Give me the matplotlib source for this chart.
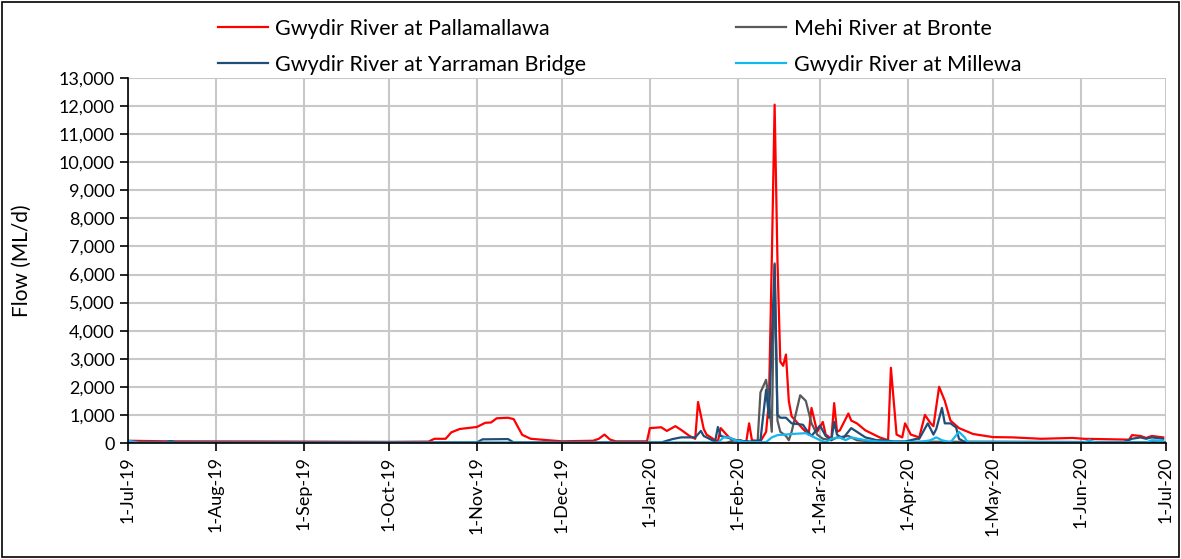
import pandas as pd
import numpy as np
import matplotlib
matplotlib.use('Agg')
import matplotlib.pyplot as plt
import matplotlib.dates as mdates
from matplotlib.ticker import FuncFormatter, MultipleLocator
from matplotlib.patches import Rectangle

plt.rcParams['font.family'] = ['Lato', 'DejaVu Sans']

# Gwydir River at Pallamallawa
palla_dates = ['2019-07-01', '2019-07-15', '2019-08-15', '2019-09-15', '2019-10-01', '2019-10-15',
               '2019-10-17', '2019-10-21', '2019-10-23', '2019-10-26', '2019-11-01', '2019-11-04',
               '2019-11-06', '2019-11-08', '2019-11-12', '2019-11-14', '2019-11-17', '2019-11-20',
               '2019-11-26', '2019-12-01', '2019-12-12', '2019-12-14', '2019-12-16', '2019-12-18',
               '2019-12-20', '2019-12-31', '2020-01-01', '2020-01-05', '2020-01-07', '2020-01-10',
               '2020-01-12', '2020-01-15', '2020-01-17', '2020-01-18', '2020-01-20', '2020-01-21',
               '2020-01-24', '2020-01-25', '2020-01-26', '2020-01-28', '2020-01-30', '2020-02-04',
               '2020-02-05', '2020-02-06', '2020-02-09', '2020-02-11', '2020-02-12', '2020-02-13',
               '2020-02-14', '2020-02-15', '2020-02-16', '2020-02-17', '2020-02-18', '2020-02-19',
               '2020-02-20', '2020-02-24', '2020-02-26', '2020-02-27', '2020-02-29', '2020-03-02',
               '2020-03-03', '2020-03-05', '2020-03-06', '2020-03-07', '2020-03-08', '2020-03-11',
               '2020-03-12', '2020-03-14', '2020-03-17', '2020-03-22', '2020-03-25', '2020-03-26',
               '2020-03-28', '2020-03-30', '2020-03-31', '2020-04-02', '2020-04-05', '2020-04-07',
               '2020-04-09', '2020-04-10', '2020-04-12', '2020-04-14', '2020-04-16', '2020-04-19',
               '2020-04-24', '2020-05-01', '2020-05-08', '2020-05-18', '2020-05-29', '2020-06-02',
               '2020-06-18', '2020-06-19', '2020-06-22', '2020-06-24', '2020-06-26', '2020-06-30']
palla_flow = [80, 60, 55, 45, 40, 50,
              150, 150, 380, 500, 570, 720,
              730, 880, 900, 850, 290, 150,
              100, 60, 80, 150, 300, 120,
              60, 60, 530, 560, 430, 600,
              470, 250, 150, 1460, 500, 300,
              100, 60, 530, 300, 100, 50,
              700, 100, 60, 400, 1500, 6500,
              12050, 6500, 2900, 2750, 3150, 1500,
              950, 500, 300, 1250, 400, 750,
              300, 150, 1420, 400, 450, 1050,
              800, 700, 450, 200, 100, 2680,
              300, 200, 700, 300, 200, 1000,
              700, 600, 2000, 1500, 800, 530,
              320, 210, 200, 150, 180, 150,
              120, 280, 250, 180, 250, 200]

# Mehi River at Bronte
mehi_dates = ['2019-07-01', '2020-01-28', '2020-01-31', '2020-02-02', '2020-02-04', '2020-02-08',
              '2020-02-09', '2020-02-11', '2020-02-12', '2020-02-13', '2020-02-14', '2020-02-15',
              '2020-02-16', '2020-02-18', '2020-02-19', '2020-02-20', '2020-02-23', '2020-02-25',
              '2020-02-27', '2020-02-29', '2020-03-02', '2020-03-05', '2020-03-07', '2020-03-11',
              '2020-03-14', '2020-03-20', '2020-07-01']
mehi_flow = [10, 10, 100, 100, 20, 50,
             1800, 2250, 1500, 400, 6400, 800,
             400, 250, 100, 400, 1700, 1500,
             700, 300, 150, 100, 200, 250,
             100, 50, 30]

# Gwydir River at Yarraman Bridge
yarra_dates = ['2019-07-01', '2019-07-14', '2019-07-16', '2019-07-18', '2019-11-01', '2019-11-03',
               '2019-11-12', '2019-11-14', '2020-01-05', '2020-01-09', '2020-01-12', '2020-01-17',
               '2020-01-19', '2020-01-20', '2020-01-23', '2020-01-24', '2020-01-25', '2020-01-26',
               '2020-01-28', '2020-01-30', '2020-02-01', '2020-02-06', '2020-02-09', '2020-02-11',
               '2020-02-12', '2020-02-14', '2020-02-15', '2020-02-16', '2020-02-18', '2020-02-20',
               '2020-02-24', '2020-02-25', '2020-02-27', '2020-03-01', '2020-03-03', '2020-03-05',
               '2020-03-06', '2020-03-07', '2020-03-09', '2020-03-12', '2020-03-14', '2020-03-17',
               '2020-03-21', '2020-03-24', '2020-03-27', '2020-03-31', '2020-04-04', '2020-04-05',
               '2020-04-08', '2020-04-10', '2020-04-11', '2020-04-13', '2020-04-14', '2020-04-16',
               '2020-04-18', '2020-04-19', '2020-04-21', '2020-06-16', '2020-06-19', '2020-06-22',
               '2020-06-24', '2020-06-26', '2020-06-30']
yarra_flow = [30, 20, 70, 20, 20, 130,
              140, 20, 20, 140, 200, 200,
              430, 250, 100, 50, 570, 250,
              200, 150, 80, 50, 100, 1900,
              900, 6350, 1000, 900, 900, 700,
              650, 500, 250, 620, 250, 100,
              750, 300, 150, 530, 400, 200,
              100, 100, 50, 50, 150, 150,
              700, 300, 500, 1250, 700, 700,
              550, 150, 40, 30, 150, 200,
              150, 200, 150]

# Gwydir River at Millewa
mille_dates = ['2019-07-01', '2019-07-05', '2020-01-25', '2020-01-27', '2020-01-29', '2020-01-31',
               '2020-02-04', '2020-02-11', '2020-02-13', '2020-02-15', '2020-02-20', '2020-02-25',
               '2020-02-27', '2020-03-01', '2020-03-03', '2020-03-05', '2020-03-08', '2020-03-10',
               '2020-03-12', '2020-03-17', '2020-03-22', '2020-04-05', '2020-04-09', '2020-04-11',
               '2020-04-13', '2020-04-16', '2020-04-19', '2020-04-21', '2020-04-22', '2020-06-02',
               '2020-06-04', '2020-06-06', '2020-06-24', '2020-06-26', '2020-06-30']
mille_flow = [80, 10, 10, 200, 200, 100,
              30, 30, 200, 280, 320, 350,
              250, 100, 30, 150, 200, 100,
              200, 100, 50, 30, 100, 200,
              100, 20, 400, 200, 30, 20,
              100, 20, 20, 100, 80]

fig = plt.figure(figsize=(11.81, 5.59), dpi=100)
ax = fig.add_axes([128/1181, 1-443/559, (1166-128)/1181, (443-78)/559])

l1, = ax.plot(pd.to_datetime(palla_dates), palla_flow, color='#FF0000', lw=1.6, label='Gwydir River at Pallamallawa')
l2, = ax.plot(pd.to_datetime(mehi_dates), mehi_flow, color='#595959', lw=1.6, label='Mehi River at Bronte')
l3, = ax.plot(pd.to_datetime(yarra_dates), yarra_flow, color='#1F4E79', lw=1.6, label='Gwydir River at Yarraman Bridge')
l4, = ax.plot(pd.to_datetime(mille_dates), mille_flow, color='#14B8F0', lw=1.6, label='Gwydir River at Millewa')

ax.set_xlim(pd.Timestamp('2019-07-01'), pd.Timestamp('2020-07-01'))
ax.set_ylim(0, 13000)
ax.yaxis.set_major_locator(MultipleLocator(1000))
ax.yaxis.set_major_formatter(FuncFormatter(lambda v, p: '{:,.0f}'.format(v)))
ax.xaxis.set_major_locator(mdates.MonthLocator())
ax.xaxis.set_major_formatter(FuncFormatter(lambda v, p: '{}-{}'.format(mdates.num2date(v).day, mdates.num2date(v).strftime('%b-%y'))))
for lab in ax.get_xticklabels():
    lab.set_rotation(90)

ax.grid(True, color='#C8C8C8', lw=1.5)
ax.set_axisbelow(True)
for s in ['top', 'right']:
    ax.spines[s].set_visible(False)
for s in ['left', 'bottom']:
    ax.spines[s].set_color('black')
    ax.spines[s].set_linewidth(1.2)
ax.tick_params(axis='both', labelsize=13, length=6, width=1.2, color='black', direction='out')
ax.set_ylabel('Flow (ML/d)', fontsize=15)
ax.yaxis.set_label_coords(-0.093, 0.5)

fig.legend([l1, l3, l2, l4], [l1.get_label(), l3.get_label(), l2.get_label(), l4.get_label()],
           ncol=2, loc='upper left', bbox_to_anchor=(218/1181, 1-19/559), frameon=False,
           borderpad=0, borderaxespad=0,
           fontsize=15.5, handlelength=2.3, handletextpad=0.37, labelspacing=0.73, columnspacing=6.95)

fig.patches.append(Rectangle((0.002, 0.003), 0.996, 0.994, transform=fig.transFigure,
                             fill=False, edgecolor='black', lw=1.2))

plt.savefig('out.png', dpi=100)
plt.close()
